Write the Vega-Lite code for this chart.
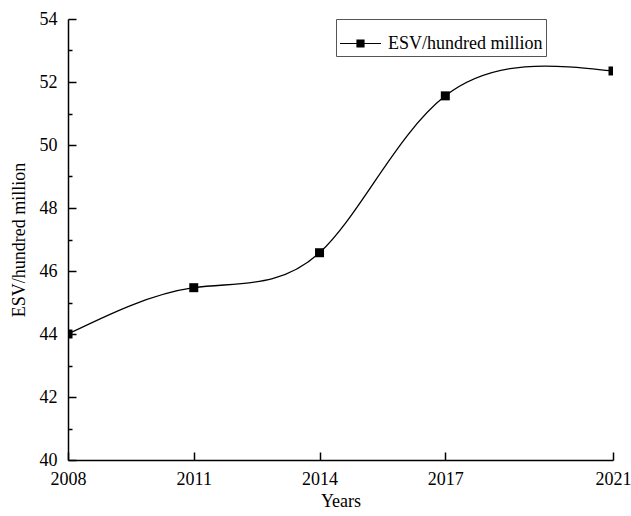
{
  "$schema": "https://vega.github.io/schema/vega-lite/v6.json",
  "width": 545,
  "height": 441,
  "autosize": {"type": "none"},
  "padding": {"left": 68, "top": 19, "right": 18, "bottom": 56},
  "background": "white",
  "config": {
    "view": {"stroke": null},
    "font": "Liberation Serif",
    "axis": {
      "labelFont": "Liberation Serif",
      "titleFont": "Liberation Serif",
      "labelFontSize": 18,
      "titleFontSize": 18,
      "titleFontWeight": "normal",
      "labelColor": "black",
      "titleColor": "black",
      "domainColor": "black",
      "tickColor": "black",
      "domainWidth": 1.5,
      "tickWidth": 1.5,
      "grid": false
    },
    "legend": {
      "labelFont": "Liberation Serif",
      "labelFontSize": 18,
      "labelColor": "black"
    }
  },
  "data": {
    "values": [
      {"year": 2008, "esv": 44.0, "series": "ESV/hundred million"},
      {"year": 2011, "esv": 45.47, "series": "ESV/hundred million"},
      {"year": 2014, "esv": 46.58, "series": "ESV/hundred million"},
      {"year": 2017, "esv": 51.56, "series": "ESV/hundred million"},
      {"year": 2021, "esv": 52.35, "series": "ESV/hundred million"}
    ]
  },
  "encoding": {
    "x": {
      "field": "year",
      "type": "quantitative",
      "scale": {"domain": [2008, 2021], "nice": false, "zero": false},
      "axis": {
        "title": "Years",
        "values": [2008, 2011, 2014, 2017, 2021],
        "format": "d",
        "tickSize": -8,
        "labelPadding": 18,
        "titlePadding": 4,
        "labelFlush": false
      }
    },
    "y": {
      "field": "esv",
      "type": "quantitative",
      "scale": {"domain": [40, 54], "nice": false, "zero": false},
      "axis": {
        "title": "ESV/hundred million",
        "values": [40, 41, 42, 43, 44, 45, 46, 47, 48, 49, 50, 51, 52, 53, 54],
        "labelExpr": "datum.value % 2 == 0 ? datum.label : ''",
        "tickSize": {"condition": {"test": "datum.value % 2 == 1", "value": -4}, "value": -8},
        "labelPadding": 19,
        "titlePadding": 11,
        "labelFlush": false
      }
    }
  },
  "layer": [
    {
      "mark": {"type": "line", "interpolate": "natural", "color": "black", "strokeWidth": 1.3, "clip": true}
    },
    {
      "mark": {"type": "point", "shape": "square", "filled": true, "size": 81, "opacity": 1, "clip": true},
      "encoding": {
        "color": {
          "field": "series",
          "type": "nominal",
          "scale": {"range": ["black"]},
          "legend": {
            "title": null,
            "orient": "none",
            "legendX": 268,
            "legendY": 0,
            "padding": 3,
            "strokeColor": "#555",
            "symbolType": "M-1,0H1M-0.17,-0.17H0.17V0.17H-0.17Z",
            "symbolSize": 1681,
            "symbolStrokeColor": "black",
            "symbolFillColor": "black",
            "symbolStrokeWidth": 1.2,
            "symbolOpacity": 1,
            "labelOffset": 6,
            "encode": {
              "symbols": {
                "update": {
                  "fill": {"value": "black"},
                  "stroke": {"value": "black"},
                  "strokeWidth": {"value": 1.2},
                  "strokeOpacity": {"value": 1},
                  "fillOpacity": {"value": 1},
                  "opacity": {"value": 1}
                }
              }
            }
          }
        }
      }
    }
  ]
}
